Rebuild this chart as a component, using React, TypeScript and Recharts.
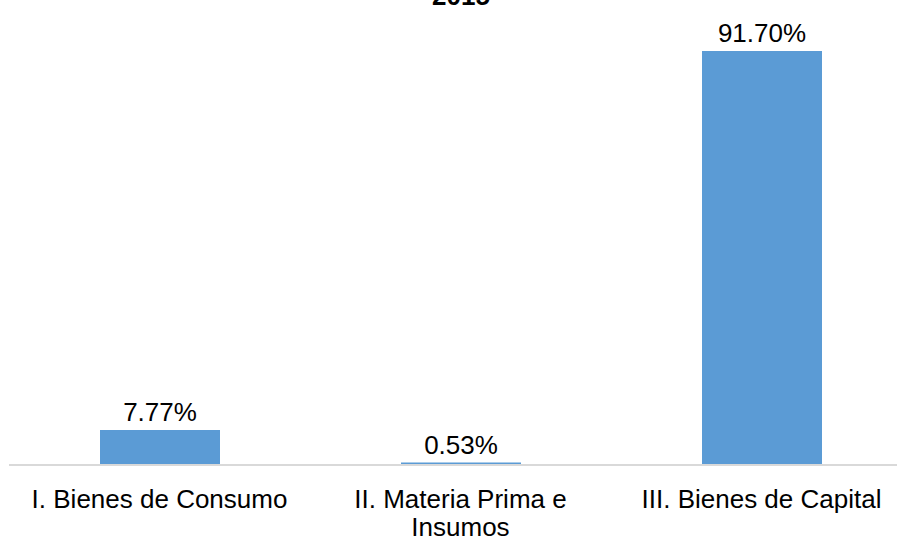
import React from "react";
import { BarChart, Bar, XAxis, YAxis, LabelList } from "recharts";

const title = "2015";
const categories = ["I. Bienes de Consumo", "II. Materia Prima e Insumos", "III. Bienes de Capital"];
const shares = [7.77, 0.53, 91.7];

const data = categories.map((c, i) => ({ name: c, value: shares[i] }));

const FONT = "'Liberation Sans', Arial, sans-serif";

function wrap(text: string, maxChars: number): string[] {
  const words = text.split(" ");
  const lines: string[] = [];
  let cur = "";
  for (const w of words) {
    const next = cur ? cur + " " + w : w;
    if (next.length > maxChars && cur) {
      lines.push(cur);
      cur = w;
    } else cur = next;
  }
  if (cur) lines.push(cur);
  return lines;
}

const Tick = (props: any) => {
  const { x, y, payload } = props;
  const lines = wrap(String(payload.value), 22);
  return (
    <text x={x} y={y} textAnchor="middle" fill="#000" fontSize={26} fontFamily={FONT}>
      {lines.map((l, i) => (
        <tspan key={i} x={x} dy={i === 0 ? 35 : 28}>
          {l}
        </tspan>
      ))}
    </text>
  );
};

export default function App() {
  return (
    <div style={{ position: "absolute", left: 0, top: 0, width: 897, height: 537, overflow: "hidden", background: "#fff" }}>
      <BarChart
        width={922}
        height={537}
        data={data}
        margin={{ top: 13.5, right: 10, bottom: 0, left: 9 }}
        barCategoryGap={0}
        style={{ overflow: "visible" }}
      >
        <text x={461} y={5} textAnchor="middle" fontSize={26} fontWeight="bold" fontFamily={FONT} fill="#000">
          {title}
        </text>
        <YAxis hide domain={[0, 100]} />
        <XAxis
          dataKey="name"
          height={72}
          interval={0}
          tickLine={false}
          axisLine={{ stroke: "#D9D9D9", strokeWidth: 2 }}
          tick={<Tick />}
        />
        <Bar dataKey="value" fill="#5B9BD5" barSize={120} isAnimationActive={false}>
          <LabelList
            dataKey="value"
            position="top"
            offset={9}
            formatter={(v: any) => `${Number(v).toFixed(2)}%`}
            style={{ fontSize: 26, fontFamily: FONT, fill: "#000" }}
          />
        </Bar>
      </BarChart>
    </div>
  );
}
